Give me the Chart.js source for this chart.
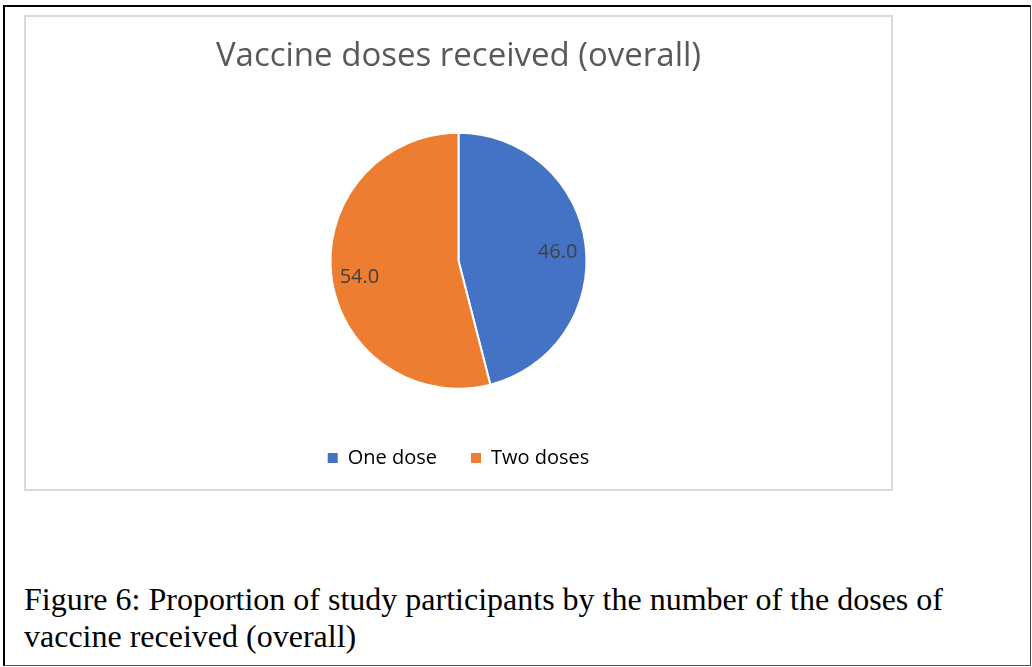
<!DOCTYPE html>
<html>
<head>
<meta charset="utf-8">
<script src="https://cdn.jsdelivr.net/npm/chart.js@4.4.1/dist/chart.umd.min.js"></script>
<style>
  html, body { margin: 0; padding: 0; background: #fff; }
  body { width: 1032px; height: 667px; position: relative; overflow: hidden; }
  #frame {
    position: absolute; left: 3px; top: 5px; width: 1028px; height: 661px;
    box-sizing: border-box;
    border-top: 2px solid #000; border-left: 2px solid #000;
    border-right: 1px solid #444; border-bottom: 1px solid #555;
  }
  #chart-box {
    position: absolute; left: 24px; top: 15px; width: 869px; height: 476px;
    box-sizing: border-box; border: 2px solid #d9d9d9; background: #fff;
  }
  #chart-box canvas { display: block; }
  #caption {
    position: absolute; left: 24px; top: 581px; width: 1000px;
    font-family: "Liberation Serif", "Times New Roman", serif;
    font-size: 32px; line-height: 37px; color: #000; white-space: nowrap;
  }
</style>
</head>
<body>
<div id="frame"></div>
<div id="chart-box"><canvas id="dose-chart" width="865" height="472"></canvas></div>
<div id="caption">Figure 6: Proportion of study participants by the number of the doses of<br>vaccine received (overall)</div>
<script>
// Data
const doseLabels = ['One dose', 'Two doses'];
const doseValues = [46.0, 54.0];
const doseColors = ['#4472C4', '#ED7D31'];
const chartTitle = 'Vaccine doses received (overall)';

// Excel-style value labels sitting inside each slice
const sliceLabels = {
    id: 'sliceLabels',
    afterDatasetsDraw(chart) {
        const ctx = chart.ctx;
        const meta = chart.getDatasetMeta(0);
        ctx.save();
        ctx.font = '20px "Open Sans"';
        ctx.fillStyle = '#404040';
        ctx.textAlign = 'center';
        ctx.textBaseline = 'middle';
        meta.data.forEach((arc, i) => {
            const p = arc.getProps(['x', 'y', 'startAngle', 'endAngle', 'outerRadius'], true);
            const mid = (p.startAngle + p.endAngle) / 2;
            const r = p.outerRadius * 0.78;
            ctx.fillText(doseValues[i].toFixed(1), p.x + Math.cos(mid) * r, p.y + Math.sin(mid) * r + 4);
        });
        ctx.restore();
    }
};

Chart.defaults.font.family = '"Open Sans", sans-serif';

const ctx = document.getElementById('dose-chart').getContext('2d');
new Chart(ctx, {
    type: 'pie',
    data: {
        labels: doseLabels,
        datasets: [{
            data: doseValues,
            backgroundColor: doseColors,
            borderColor: '#ffffff',
            borderWidth: 2,
            radius: 128
        }]
    },
    options: {
        responsive: false,
        animation: false,
        layout: { padding: { top: 0, bottom: 11, left: 0, right: 0 } },
        plugins: {
            title: {
                display: true,
                text: chartTitle,
                color: '#595959',
                font: { size: 33, weight: 'normal' },
                padding: { top: 20, bottom: 31 }
            },
            legend: {
                position: 'bottom',
                labels: {
                    color: '#595959',
                    font: { size: 20 },
                    boxWidth: 10,
                    boxHeight: 10,
                    padding: 34,
                    generateLabels(chart) {
                        return doseLabels.map((t, i) => ({
                            text: t,
                            fillStyle: doseColors[i],
                            strokeStyle: doseColors[i],
                            lineWidth: 0,
                            index: i
                        }));
                    }
                }
            },
            tooltip: { enabled: false }
        }
    },
    plugins: [sliceLabels]
});
</script>
</body>
</html>
